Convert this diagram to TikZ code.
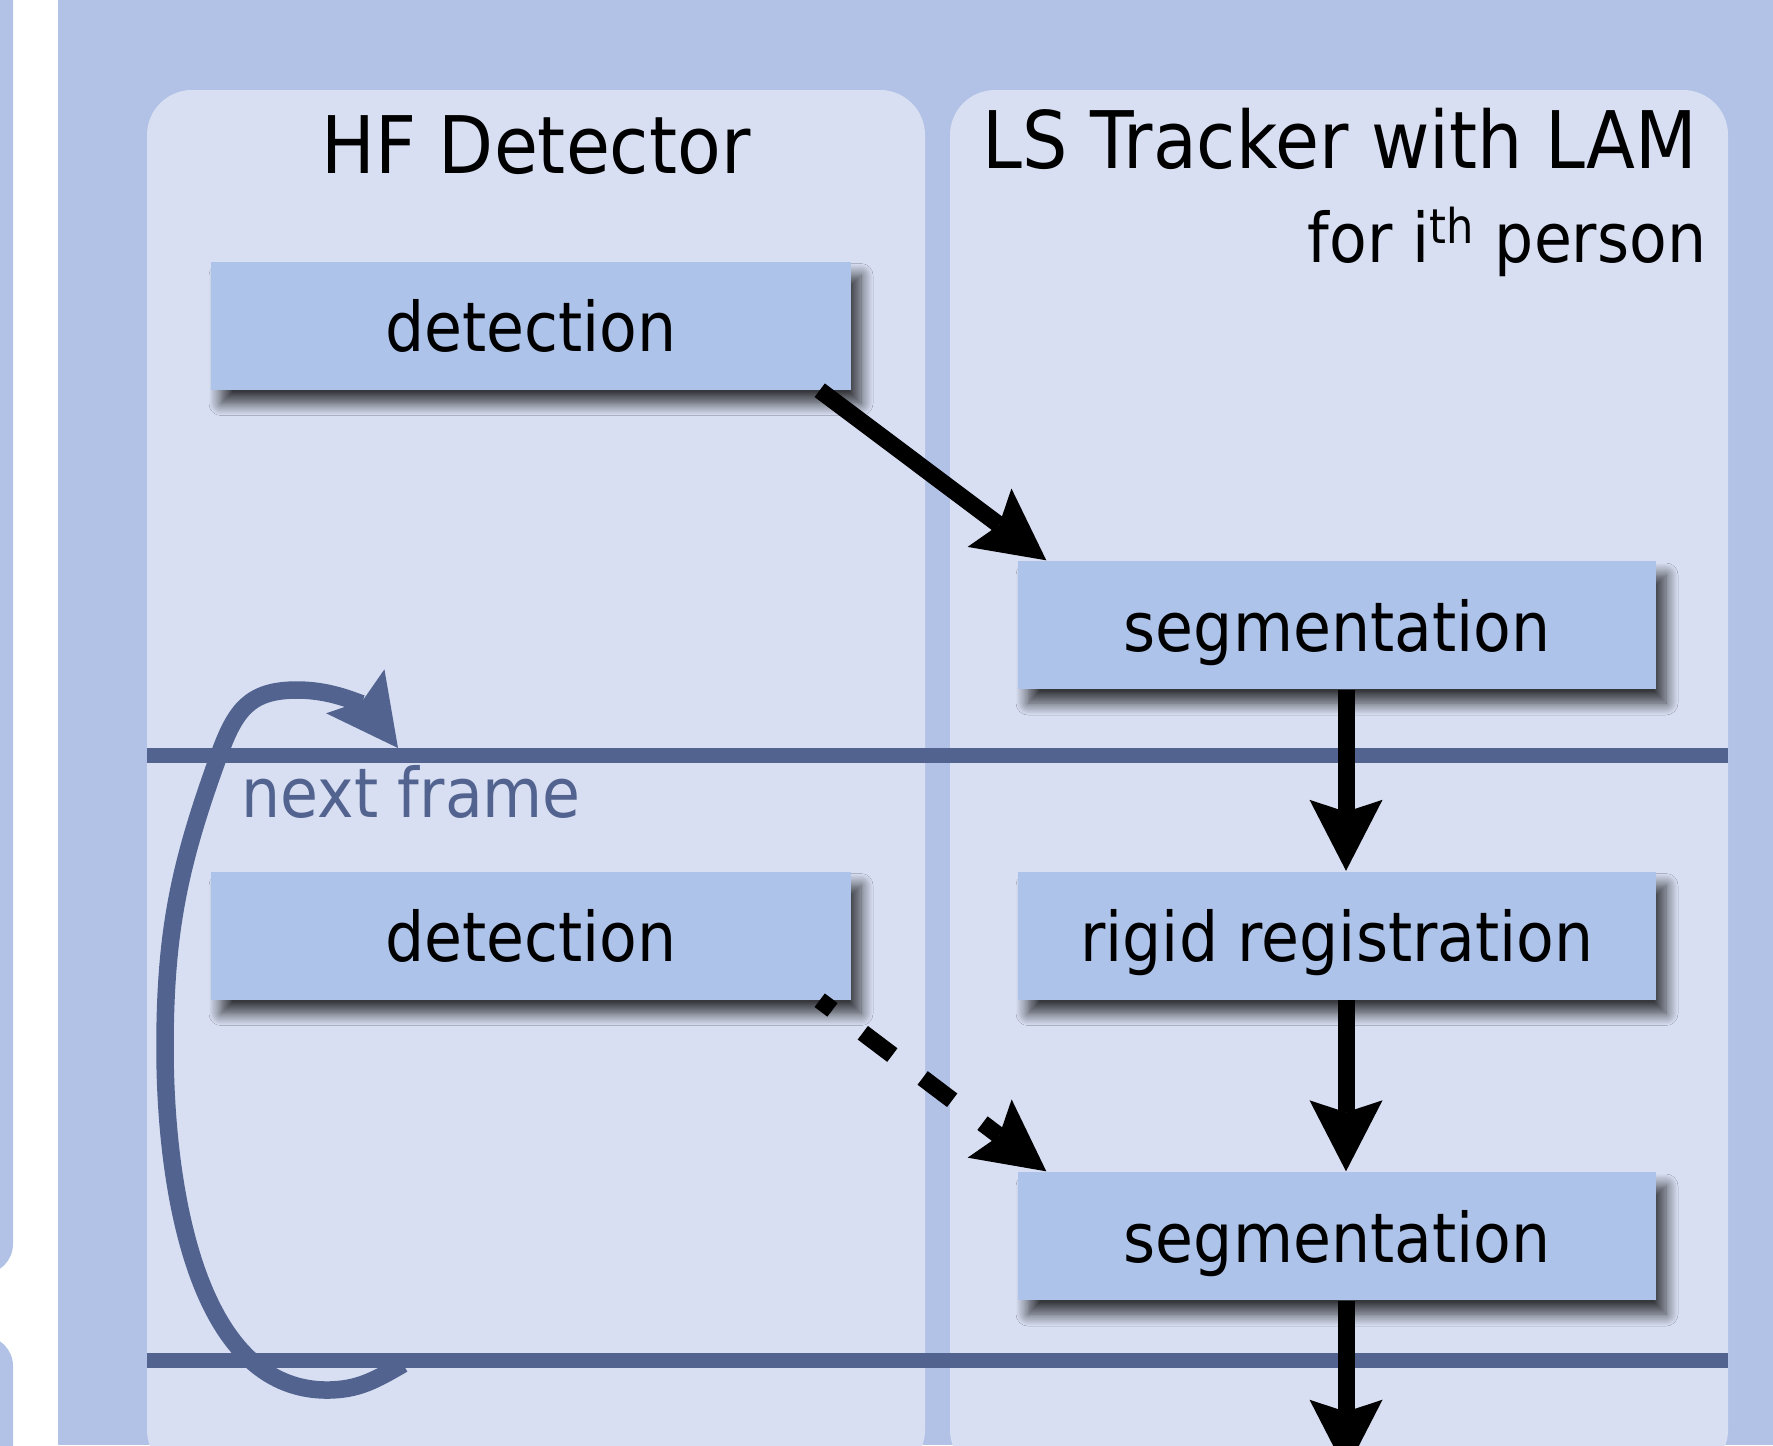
\documentclass[tikz,border=0pt]{standalone}
\usepackage{fontspec}
\setmainfont{DejaVu Sans}[FakeStretch=0.9]
\usetikzlibrary{arrows.meta,shadows.blur}

\definecolor{bgblue}{HTML}{B2C2E6}
\definecolor{panelblue}{HTML}{D8DFF2}
\definecolor{boxblue}{HTML}{AEC3E9}
\definecolor{darkblue}{HTML}{52638F}

\tikzset{
  procbox/.style={fill=boxblue, minimum width=6.4cm, minimum height=1.28cm, inner sep=0pt,
    text height=14.8pt, text depth=0pt, font=\fontsize{19.5}{22}\selectfont,
    blur shadow={shadow xshift=1.0mm, shadow yshift=-1.4mm, shadow blur radius=1.2mm,
      shadow blur steps=12, shadow opacity=75}},
  coltitle/.style={anchor=base, inner sep=0pt, font=\fontsize{22.6}{26}\selectfont},
  flow/.style={->, line width=1.7mm},
}

\begin{document}
\begin{tikzpicture}[>={Stealth[length=7.1mm, width=7.3mm, inset=1.2mm, line width=0pt]}]
  \useasboundingbox (0,0) rectangle (17.73,-14.45);
  \clip (0,0) rectangle (17.73,-14.45);

  % background
  \fill[white] (0,0) rectangle (17.73,-14.45);
  \fill[bgblue, rounded corners=3mm] (-1,1) rectangle (0.13,-12.74);
  \fill[bgblue, rounded corners=3mm] (-1,-13.36) rectangle (0.13,-15.5);
  \fill[bgblue] (0.58,0) rectangle (17.73,-14.45);

  % panels
  \fill[panelblue, rounded corners=4.5mm] (1.47,-0.90) rectangle (9.25,-14.75);
  \fill[panelblue, rounded corners=4.5mm] (9.50,-0.90) rectangle (17.28,-14.75);

  % frame lines
  \draw[darkblue, line width=1.5mm] (1.47,-7.55) -- (17.28,-7.55);
  \draw[darkblue, line width=1.5mm] (1.47,-13.60) -- (17.28,-13.60);

  % titles
  \node[coltitle] (hf) at (5.36,-1.73) {HF Detector};
  \node[coltitle] (ls) at (13.40,-1.68) {LS Tracker with LAM};
  \node[anchor=base east, inner sep=0pt, font=\fontsize{19.5}{22}\selectfont] (pers) at (17.07,-2.62) {for i\raisebox{-0.8mm}{\textsuperscript{th}} person};
  \node[anchor=base west, inner sep=0pt, text=darkblue, font=\fontsize{19.5}{22}\selectfont] (next) at (2.41,-8.17) {next frame};

  % boxes
  \node[procbox] (det1) at (5.31,-3.255) {detection};
  \node[procbox] (det2) at (5.31,-9.355) {detection};
  \node[procbox, minimum width=6.38cm] (seg1) at (13.37,-6.25) {segmentation};
  \node[procbox, minimum width=6.38cm] (rigid) at (13.37,-9.355) {rigid registration};
  \node[procbox, minimum width=6.38cm] (seg2) at (13.37,-12.36) {segmentation};

  % arrows
  \draw[flow] ([xshift=-3.2mm]det1.south east) -- ([xshift=2.9mm]seg1.north west);
  \draw[flow] ([xshift=0.9mm]seg1.south) -- ([xshift=0.9mm]rigid.north);
  \draw[flow] ([xshift=0.9mm]rigid.south) -- ([xshift=0.9mm]seg2.north);
  \coordinate (out) at ([xshift=0.9mm, yshift=-1.7cm]seg2.south);
  \draw[flow] ([xshift=0.9mm]seg2.south) -- (out);
  \draw[flow, dash pattern=on 3.7mm off 3.8mm, dash phase=2.1mm] ([xshift=-3.2mm]det2.south east) -- ([xshift=2.9mm]seg2.north west);

  % loop to next frame
  \coordinate (lp0) at (4.03,-13.64);
  \coordinate (lp1) at (3.27,-13.90);
  \coordinate (lp2) at (1.65,-10.48);
  \coordinate (lp3) at (2.19,-7.55);
  \coordinate (lp4) at (2.97,-6.90);
  \coordinate (lp5) at (3.98,-7.48);
  \draw[darkblue, line width=1.75mm, ->] (lp0) to[out=210, in=0] (lp1) to[out=180, in=270, looseness=0.9] (lp2)
    to[out=90, in=250] (lp3) to[out=70, in=180, looseness=1.2] (lp4) to[out=0, in=127] (lp5);
\end{tikzpicture}
\end{document}
